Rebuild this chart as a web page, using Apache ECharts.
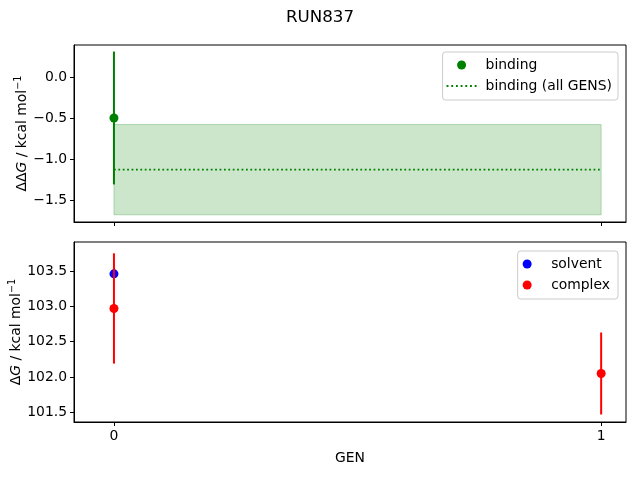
<!DOCTYPE html>
<html>
<head>
<meta charset="utf-8">
<script src="https://cdn.jsdelivr.net/npm/echarts@6/dist/echarts.min.js"></script>
<style>
  html, body { margin: 0; padding: 0; background: #fff; }
  #main { width: 640px; height: 480px; }
</style>
</head>
<body>
<div id="main"></div>
<script>
// GEN values
var gens = [0, 1];
var xTicks = [0, 1];

// top panel: binding free energy per GEN
var bindingGen = [0];
var bindingVal = [-0.5];
var bindingErr = [0.81];
// binding over all GENS
var bindingAll = -1.13;
var bindingAllErr = 0.55;
var topTicks = [-1.5, -1.0, -0.5, 0.0];

// bottom panel
var solventGen = [0];
var solventVal = [103.46];
var complexGen = [0, 1];
var complexVal = [102.97, 102.05];
var complexErr = [0.78, 0.58];
var bottomTicks = [101.5, 102.0, 102.5, 103.0, 103.5];

var FONT = 'DejaVu Sans';
var FS = 13.9;

// dotted line icon for the legend
var dotIcon = 'path://M0,0h1.6v1.6h-1.6z M4,0h1.6v1.6h-1.6z M8,0h1.6v1.6h-1.6z M12,0h1.6v1.6h-1.6z M16,0h1.6v1.6h-1.6z M20,0h1.6v1.6h-1.6z M24,0h1.6v1.6h-1.6z';

function fmt(v) {
  var s = v.toFixed(1);
  return s.charAt(0) == '-' ? '\u2212' + s.slice(1) : s;
}

function errData(xs, ys, es) {
  var out = [];
  for (var i = 0; i < xs.length; i++) {
    out.push([xs[i], ys[i] - es[i], ys[i] + es[i]]);
  }
  return out;
}

function errBar(color) {
  return function (params, api) {
    var p1 = api.coord([api.value(0), api.value(1)]);
    var p2 = api.coord([api.value(0), api.value(2)]);
    return {
      type: 'line',
      shape: { x1: p1[0], y1: p1[1], x2: p2[0], y2: p2[1] },
      style: { stroke: color, lineWidth: 2 }
    };
  };
}

function pairs(xs, ys) {
  return xs.map(function (x, i) { return [x, ys[i]]; });
}

var axisLine = { show: true, onZero: false, lineStyle: { color: '#000', width: 1 } };

var nameRich = {
  n: { fontFamily: FONT, fontSize: FS, color: '#000' },
  i: { fontFamily: FONT, fontSize: FS, fontStyle: 'italic', color: '#000' },
  s: { fontFamily: FONT, fontSize: 9.7, color: '#000', verticalAlign: 'top', padding: [0, 0, 8, 0] }
};

var legendBase = {
  orient: 'vertical', right: 22,
  itemWidth: 30, itemHeight: 9, itemGap: 7,
  borderColor: '#ccc', borderWidth: 1, borderRadius: 3,
  textStyle: { fontFamily: FONT, fontSize: FS, color: '#000', padding: [0, 0, 0, 4] }
};

var chart = echarts.init(document.getElementById('main'));

chart.setOption({
  animation: false,
  backgroundColor: '#fff',
  textStyle: { fontFamily: FONT },
  title: {
    text: 'RUN837',
    left: 'center',
    top: 4,
    textStyle: { fontFamily: FONT, fontSize: 16.7, fontWeight: 'normal', color: '#000' }
  },
  grid: [
    { left: 74, right: 14, top: 45, height: 177, show: true, borderColor: '#000', borderWidth: 1, outerBoundsMode: 'none' },
    { left: 74, right: 14, top: 242, height: 180, show: true, borderColor: '#000', borderWidth: 1, outerBoundsMode: 'none' }
  ],
  legend: [
    Object.assign({}, legendBase, {
      top: 52,
      padding: [6, 6, 7, 4],
      data: [
        { name: 'binding', icon: 'circle' },
        { name: 'binding (all GENS)', icon: dotIcon }
      ]
    }),
    Object.assign({}, legendBase, {
      top: 251,
      padding: [6, 8, 7, 5],
      data: [
        { name: 'solvent', icon: 'circle' },
        { name: 'complex', icon: 'circle' }
      ]
    })
  ],
  xAxis: [
    {
      gridIndex: 0, type: 'value', min: -0.082, max: 1.051,
      axisLine: axisLine, splitLine: { show: false },
      axisTick: { show: true, length: 4, lineStyle: { color: '#000' }, customValues: xTicks },
      axisLabel: { show: false, customValues: xTicks }
    },
    {
      gridIndex: 1, type: 'value', min: -0.082, max: 1.051,
      name: 'GEN', nameLocation: 'middle', nameGap: 29, nameMoveOverlap: false,
      nameTextStyle: { fontFamily: FONT, fontSize: FS, color: '#000' },
      axisLine: axisLine, splitLine: { show: false },
      axisTick: { show: true, length: 4, lineStyle: { color: '#000' }, customValues: xTicks },
      axisLabel: { fontFamily: FONT, fontSize: FS, color: '#000', margin: 7, customValues: xTicks,
        formatter: function (v) { return String(Math.round(v)); } }
    }
  ],
  yAxis: [
    {
      gridIndex: 0, type: 'value', min: -1.768, max: 0.39,
      name: '{n|\u0394\u0394}{i|G}{n| / kcal mol}{s|\u22121}',
      nameLocation: 'middle', nameGap: 43, nameRotate: 90, nameMoveOverlap: false,
      nameTextStyle: { color: '#000', rich: nameRich },
      axisLine: axisLine, splitLine: { show: false },
      axisTick: { show: true, length: 4, lineStyle: { color: '#000' }, customValues: topTicks },
      axisLabel: { fontFamily: FONT, fontSize: FS, color: '#000', margin: 7, customValues: topTicks, formatter: fmt }
    },
    {
      gridIndex: 1, type: 'value', min: 101.364, max: 103.91,
      name: '{n|\u0394}{i|G}{n| / kcal mol}{s|\u22121}',
      nameLocation: 'middle', nameGap: 49, nameRotate: 90, nameMoveOverlap: false,
      nameTextStyle: { color: '#000', rich: nameRich },
      axisLine: axisLine, splitLine: { show: false },
      axisTick: { show: true, length: 4, lineStyle: { color: '#000' }, customValues: bottomTicks },
      axisLabel: { fontFamily: FONT, fontSize: FS, color: '#000', margin: 7, customValues: bottomTicks, formatter: fmt }
    }
  ],
  series: [
    {
      // shaded band of the all-GENS estimate
      type: 'custom', xAxisIndex: 0, yAxisIndex: 0, silent: true, z: 1,
      data: [[gens[0], gens[gens.length - 1], bindingAll - bindingAllErr, bindingAll + bindingAllErr]],
      renderItem: function (params, api) {
        var a = api.coord([api.value(0), api.value(3)]);
        var b = api.coord([api.value(1), api.value(2)]);
        return {
          type: 'rect',
          shape: { x: a[0], y: a[1], width: b[0] - a[0], height: b[1] - a[1] },
          style: { fill: 'rgba(0,128,0,0.2)', stroke: 'rgba(0,128,0,0.25)', lineWidth: 1 }
        };
      }
    },
    {
      name: 'binding (all GENS)', type: 'line', xAxisIndex: 0, yAxisIndex: 0,
      data: gens.map(function (g) { return [g, bindingAll]; }),
      showSymbol: false, symbol: 'none', z: 2,
      lineStyle: { color: 'green', width: 1.8, type: [1.8, 2.6] },
      itemStyle: { color: 'green' }
    },
    {
      type: 'custom', xAxisIndex: 0, yAxisIndex: 0, silent: true, z: 3,
      data: errData(bindingGen, bindingVal, bindingErr),
      renderItem: errBar('green')
    },
    {
      name: 'binding', type: 'scatter', xAxisIndex: 0, yAxisIndex: 0, z: 4,
      data: pairs(bindingGen, bindingVal),
      symbolSize: 9, itemStyle: { color: 'green', opacity: 1 }
    },
    {
      name: 'solvent', type: 'scatter', xAxisIndex: 1, yAxisIndex: 1, z: 3,
      data: pairs(solventGen, solventVal),
      symbolSize: 9, itemStyle: { color: 'blue', opacity: 1 }
    },
    {
      type: 'custom', xAxisIndex: 1, yAxisIndex: 1, silent: true, z: 4,
      data: errData(complexGen, complexVal, complexErr),
      renderItem: errBar('red')
    },
    {
      name: 'complex', type: 'scatter', xAxisIndex: 1, yAxisIndex: 1, z: 5,
      data: pairs(complexGen, complexVal),
      symbolSize: 9, itemStyle: { color: 'red', opacity: 1 }
    }
  ]
});
</script>
</body>
</html>
